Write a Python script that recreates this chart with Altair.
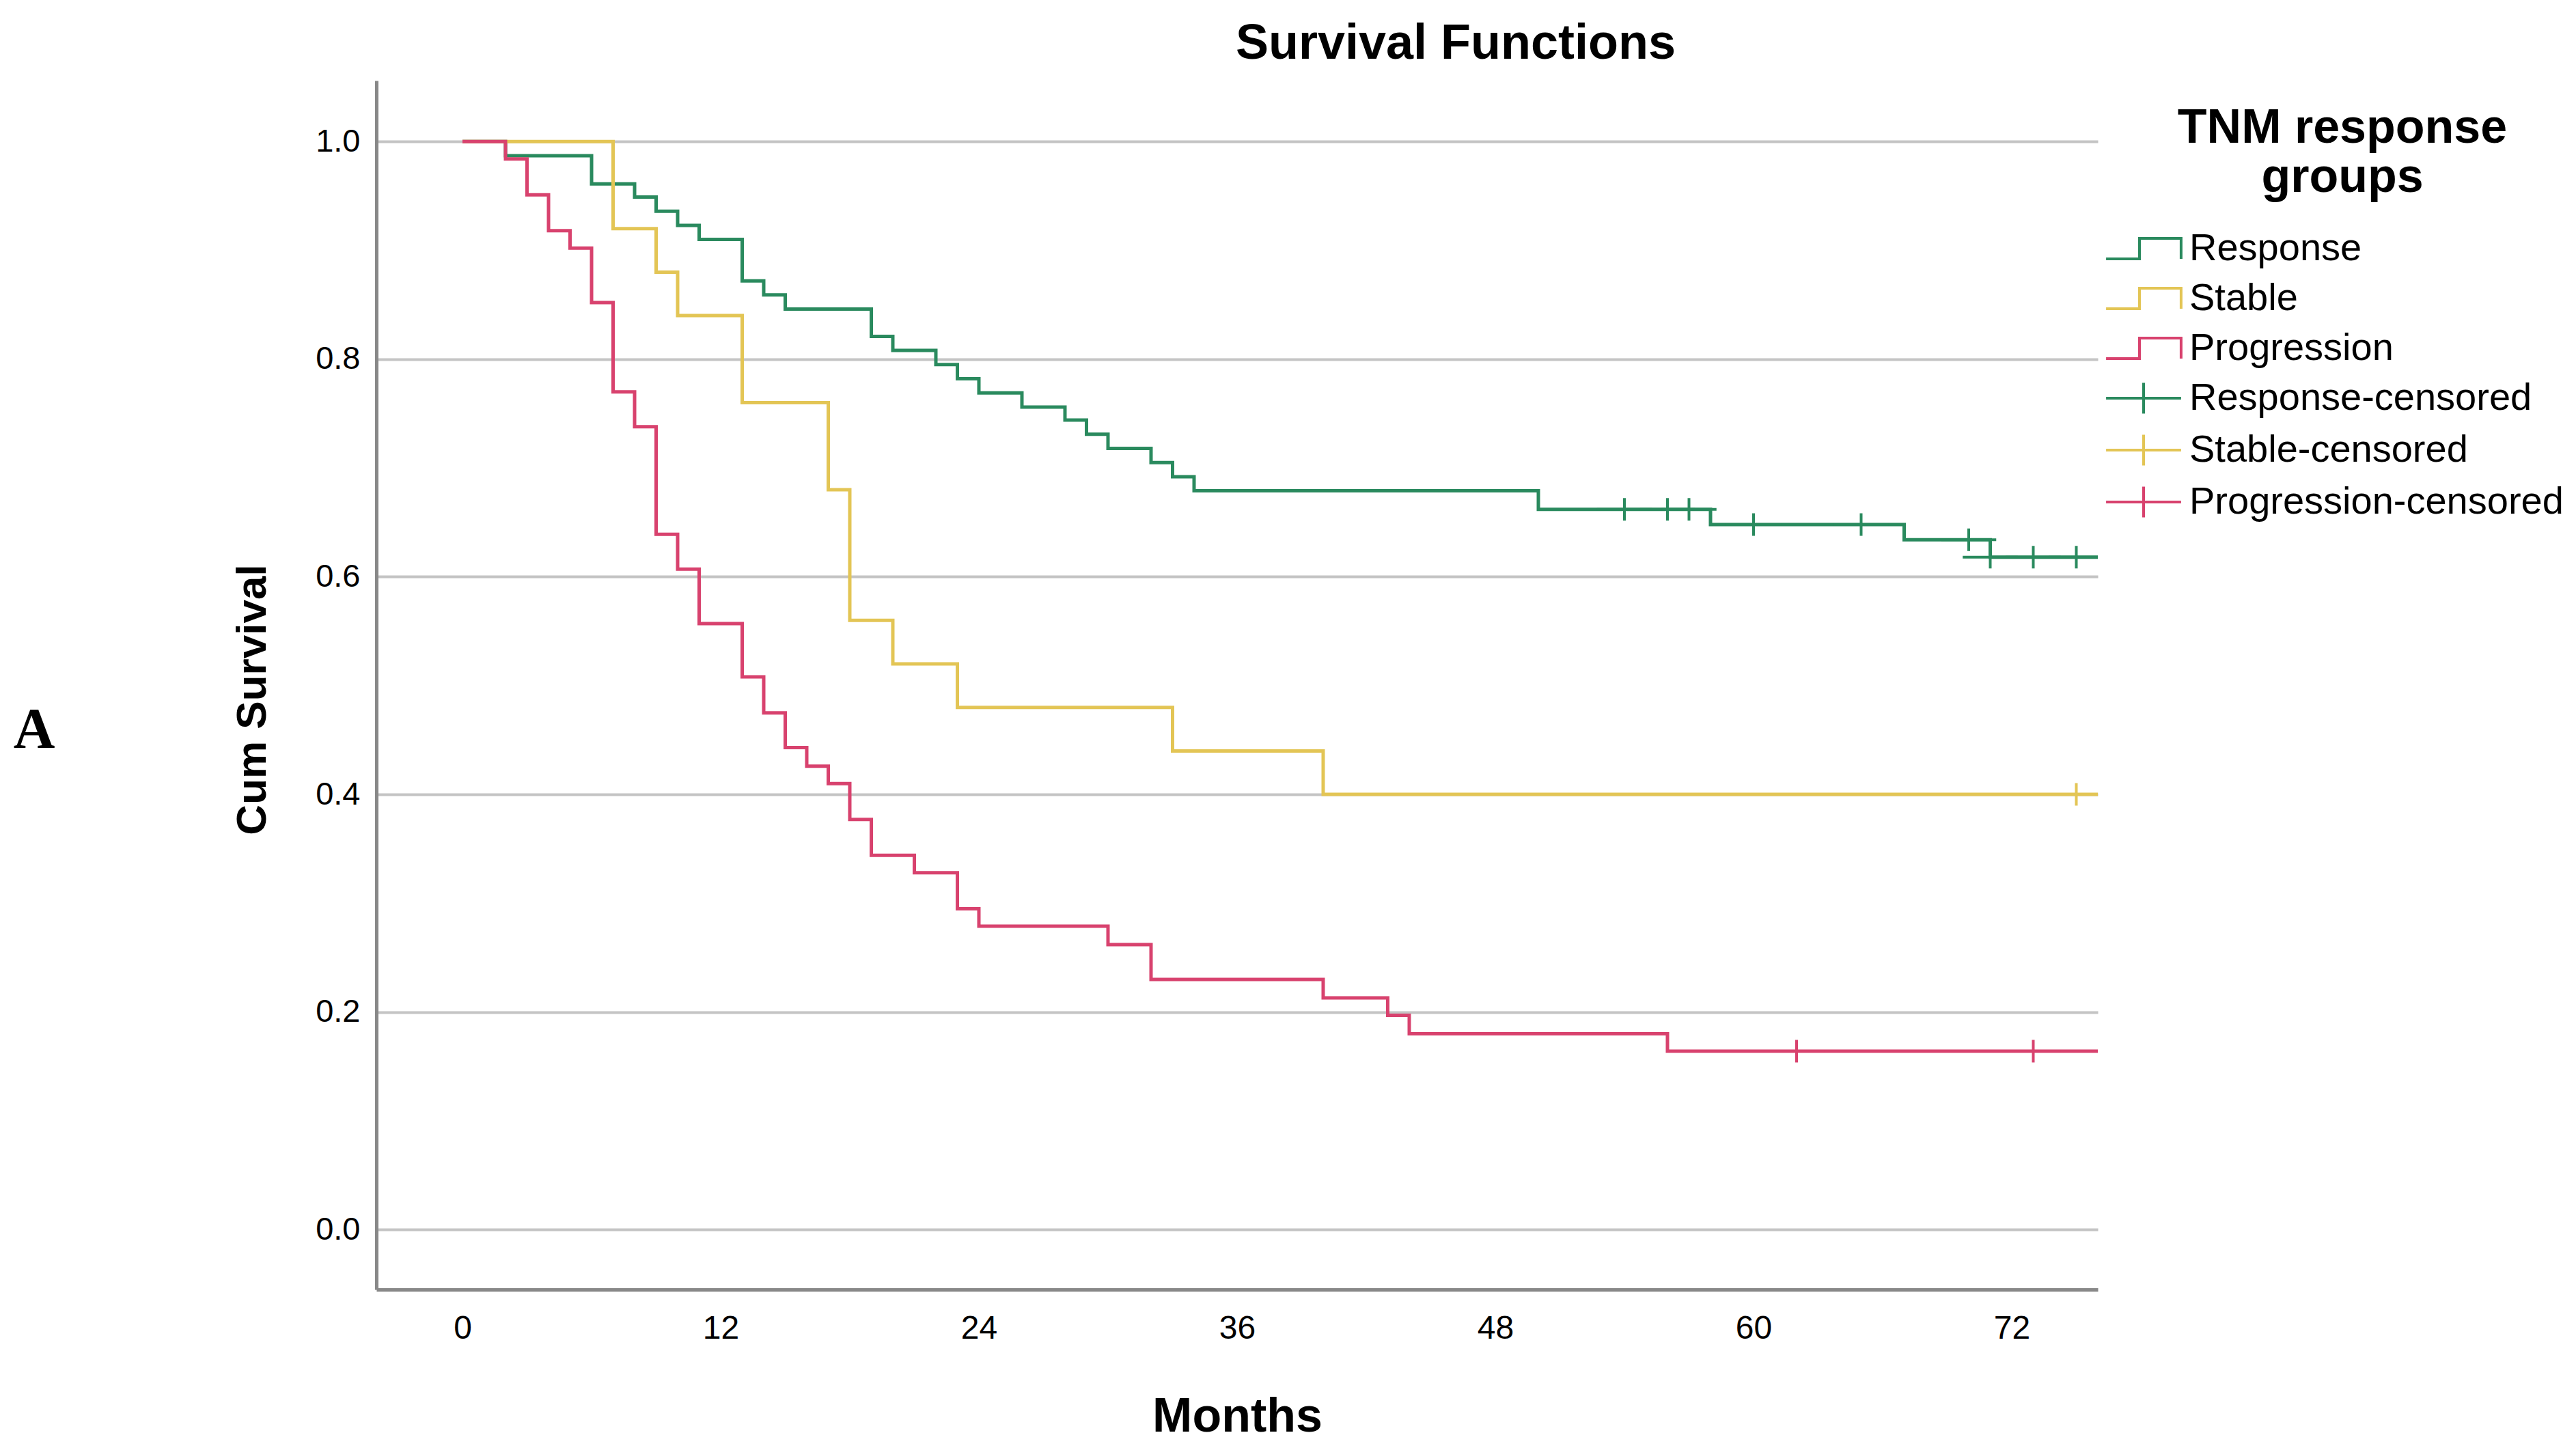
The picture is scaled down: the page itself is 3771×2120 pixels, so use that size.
import altair as alt
import pandas as pd

# ---- data (months, cumulative survival) ----
resp_t = [0, 2, 6, 8, 9, 10, 11, 13, 14, 15, 19, 20, 22, 23, 24, 26, 28, 29, 30, 32, 33, 34, 50, 58, 67, 71, 76]
resp_s = [1.0, 0.987, 0.961, 0.949, 0.936, 0.923, 0.910, 0.872, 0.859, 0.846, 0.821, 0.808, 0.795, 0.782,
          0.769, 0.756, 0.744, 0.731, 0.718, 0.705, 0.692, 0.679, 0.662, 0.648, 0.634, 0.618, 0.618]
resp_cens_t = [54, 56, 57, 60, 65, 70, 71, 73, 75]
resp_cens_s = [0.662, 0.662, 0.662, 0.648, 0.648, 0.634, 0.618, 0.618, 0.618]

stab_t = [0, 7, 9, 10, 13, 17, 18, 20, 23, 33, 40, 76]
stab_s = [1.0, 0.92, 0.88, 0.84, 0.76, 0.68, 0.56, 0.52, 0.48, 0.44, 0.40, 0.40]
stab_cens_t = [75]
stab_cens_s = [0.40]

prog_t = [0, 2, 3, 4, 5, 6, 7, 8, 9, 10, 11, 13, 14, 15, 16, 17, 18, 19, 21, 23, 24, 30, 32, 40, 43, 44, 56, 76]
prog_s = [1.0, 0.984, 0.951, 0.918, 0.902, 0.852, 0.770, 0.738, 0.639, 0.607, 0.557, 0.508, 0.475, 0.443,
          0.426, 0.410, 0.377, 0.344, 0.328, 0.295, 0.279, 0.262, 0.230, 0.213, 0.197, 0.180, 0.164, 0.164]
prog_cens_t = [62, 73]
prog_cens_s = [0.164, 0.164]

categories = ["Response", "Stable", "Progression",
              "Response-censored", "Stable-censored", "Progression-censored"]
colors = ["#2A8A5E", "#E3C555", "#D8426E", "#2A8A5E", "#E3C555", "#D8426E"]
x_ticks = [0, 12, 24, 36, 48, 60, 72]
y_ticks = [0.0, 0.2, 0.4, 0.6, 0.8, 1.0]

STEP = "M-1.83,0.5L-0.2,0.5L-0.2,-0.5L1.83,-0.5L1.83,0.5"
PLUS = "M-1.83,0L1.83,0M0,-0.75L0,0.75"
shapes = [STEP, STEP, STEP, PLUS, PLUS, PLUS]

lines = pd.concat([
    pd.DataFrame({"t": resp_t, "s": resp_s, "cat": "Response"}),
    pd.DataFrame({"t": stab_t, "s": stab_s, "cat": "Stable"}),
    pd.DataFrame({"t": prog_t, "s": prog_s, "cat": "Progression"}),
], ignore_index=True)
cens = pd.concat([
    pd.DataFrame({"t": resp_cens_t, "s": resp_cens_s, "cat": "Response-censored"}),
    pd.DataFrame({"t": stab_cens_t, "s": stab_cens_s, "cat": "Stable-censored"}),
    pd.DataFrame({"t": prog_cens_t, "s": prog_cens_s, "cat": "Progression-censored"}),
], ignore_index=True)

FONT = "Liberation Sans"

x_enc = alt.X("t:Q", scale=alt.Scale(domain=[-4, 76], nice=False, zero=False),
              axis=alt.Axis(values=x_ticks, title="Months", grid=False, ticks=False,
                            labelFontSize=48, labelPadding=33, labelFont=FONT, labelColor="black",
                            titleFontSize=70, titleFont=FONT, titleFontWeight="bold", titleColor="black",
                            titleBaseline="alphabetic", titleY=207,
                            domainColor="#888888", domainWidth=5))
y_enc = alt.Y("s:Q", scale=alt.Scale(domain=[-0.055, 1.056], nice=False, zero=False),
              axis=alt.Axis(values=y_ticks, format=".1f", title="Cum Survival", grid=True,
                            gridColor="#C4C4C4", gridWidth=4, ticks=False,
                            labelFontSize=47, labelPadding=24, labelFont=FONT, labelColor="black",
                            titleFontSize=62, titleFont=FONT, titleFontWeight="bold", titleColor="black",
                            titleBaseline="alphabetic", titleX=-163, titleY=906, titleAngle=270,
                            titleAlign="center",
                            domainColor="#888888", domainWidth=5))

color_scale = alt.Scale(domain=categories, range=colors)
shape_scale = alt.Scale(domain=categories, range=shapes)

legend = alt.Legend(title=["TNM response", "groups"], orient="none", legendX=2555, legendY=36,
                    symbolSize=3600, symbolStrokeWidth=4, symbolFillColor="transparent",
                    labelFontSize=56, labelFont=FONT, labelColor="black", labelOffset=35, labelLimit=1000,
                    titleFontSize=70, titleFont=FONT, titleFontWeight="bold", titleColor="black",
                    titleAnchor="middle", titleAlign="center", titleLineHeight=72, titleLimit=1000,
                    titlePadding=36, rowPadding=13, padding=0)


def line_layer(name, col):
    return alt.Chart(lines).transform_filter(alt.datum.cat == name).mark_line(
        interpolate="step-after", strokeWidth=5, color=col
    ).encode(x=x_enc, y=y_enc)


points = alt.Chart(cens).mark_point(filled=False, size=1936, strokeWidth=4, opacity=1, clip=True).encode(
    x=x_enc, y=y_enc,
    color=alt.Color("cat:N", scale=color_scale, legend=legend),
    shape=alt.Shape("cat:N", scale=shape_scale, legend=legend),
)

panel_label = alt.Chart(pd.DataFrame({"label": ["A"]})).mark_text(
    font="Liberation Serif", fontSize=84, fontWeight="bold", align="center", baseline="alphabetic",
    color="black"
).encode(text="label:N", x=alt.value(-501), y=alt.value(977))

chart = alt.layer(
    line_layer("Response", colors[0]), line_layer("Stable", colors[1]),
    line_layer("Progression", colors[2]), points, panel_label
).properties(
    width=2520, height=1770,
    title=alt.TitleParams("Survival Functions", fontSize=72, font=FONT, fontWeight="bold",
                          anchor="middle", dx=320, dy=73, offset=33, baseline="alphabetic",
                          color="black"),
    autosize=alt.AutoSizeParams(type="none"),
    padding={"left": 543, "top": 110, "right": 690, "bottom": 224},
    background="white",
).configure_view(stroke=None)

chart.save("out.html", embed_options={"renderer": "svg", "actions": False})
